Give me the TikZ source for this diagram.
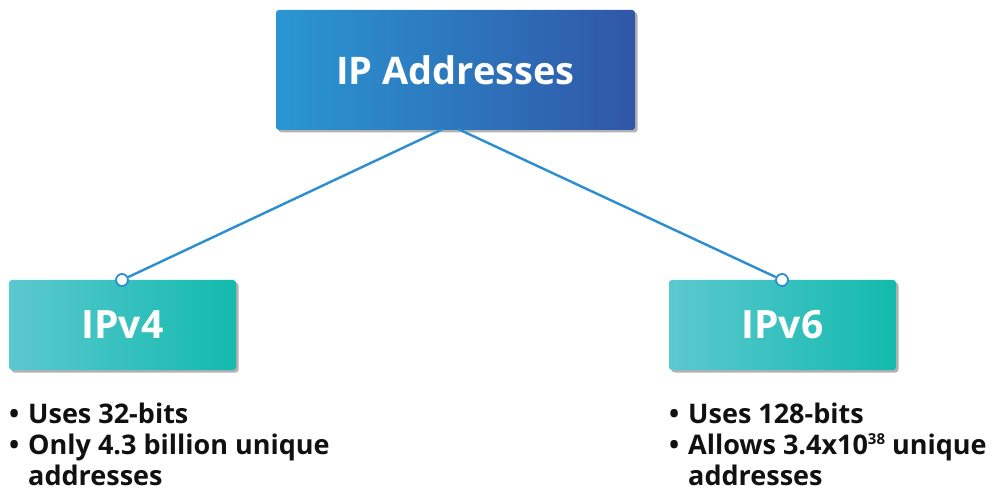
\documentclass[tikz,border=0pt]{standalone}
\usepackage{fontspec}
\setmainfont{Open Sans}
\usetikzlibrary{shadows}
\definecolor{topL}{HTML}{2A97D2}
\definecolor{topR}{HTML}{3056A8}
\definecolor{subL}{HTML}{5CC8D0}
\definecolor{subR}{HTML}{12BAAD}
\definecolor{wire}{HTML}{2B8ED0}
\definecolor{ink}{HTML}{111111}
\begin{document}
\begin{tikzpicture}[x=1pt,y=-1pt,
  box/.style={rectangle, rounded corners=3pt, inner sep=0pt, text=white,
    drop shadow={shadow xshift=2.5pt, shadow yshift=-2.5pt, fill=black, opacity=0.3}},
  topbox/.style={box, left color=topL, right color=topR, minimum width=359pt, minimum height=120pt,
    font=\fontsize{38}{44}\bfseries\selectfont},
  subbox/.style={box, left color=subL, right color=subR, minimum width=227pt, minimum height=90pt,
    font=\fontsize{39}{44}\bfseries\selectfont},
  wireline/.style={draw=wire, line width=2.4pt},
  dot/.style={circle, draw=wire, line width=1.8pt, fill=white, inner sep=0pt, minimum size=12pt},
  item/.style={anchor=base west, inner sep=0pt, text=ink, font=\fontsize{27}{31}\bfseries\selectfont}
]
\useasboundingbox[fill=white] (0,0) rectangle (1000,502);

\node[topbox] (top) at (455.5,70) {IP Addresses};
\node[subbox] (v4) at (122.5,325) {IPv4};
\node[subbox] (v6) at (782.5,325) {IPv6};

\coordinate (t4) at (443,129);
\coordinate (t6) at (458,129);
\node[dot] (d4) at (122,280) {};
\node[dot] (d6) at (782,280) {};
\draw[wireline] (t4) -- (d4);
\draw[wireline] (t6) -- (d6);

\node[item] (a1) at (9,423) {•};
\node[item] (a1t) at (28,423) {Uses 32-bits};
\node[item] (a2) at (9,454) {•};
\node[item] (a2t) at (28,454) {Only 4.3 billion unique};
\node[item] (a3t) at (28,485) {addresses};

\node[item] (b1) at (669,423) {•};
\node[item] (b1t) at (688,423) {Uses 128-bits};
\node[item] (b2) at (669,454) {•};
\node[item] (b2t) at (688,454) {Allows 3.4x10\raisebox{10pt}{\fontsize{15}{15}\selectfont 38} unique};
\node[item] (b3t) at (688,485) {addresses};
\end{tikzpicture}
\end{document}
